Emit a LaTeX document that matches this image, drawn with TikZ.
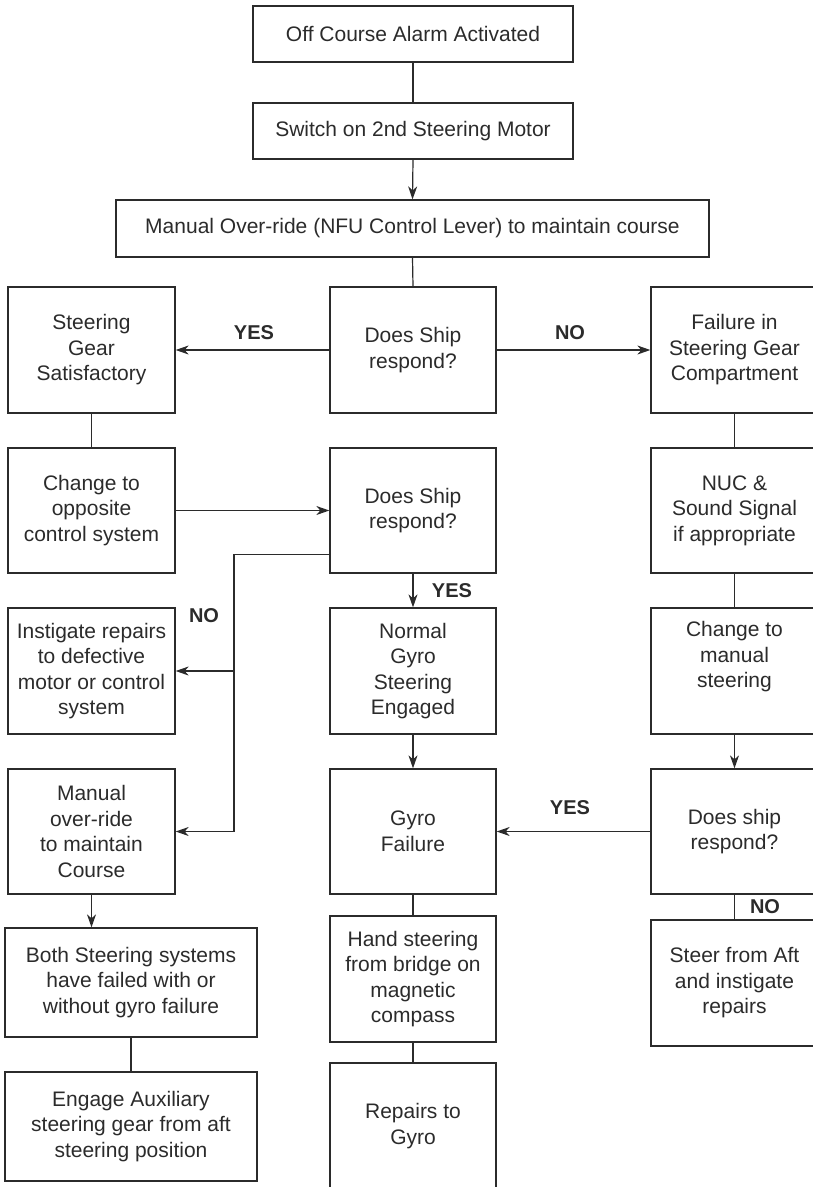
\documentclass[tikz,border=0pt]{standalone}
\usepackage{fontspec}
\setmainfont{Liberation Sans}
\usetikzlibrary{arrows.meta}
\definecolor{ink}{rgb}{0.17,0.17,0.17}
\begin{document}
\begin{tikzpicture}[x=1pt,y=-1pt,
  box/.style={draw=ink, line width=1.3pt, inner sep=0pt, align=center, text=ink,
    font=\fontsize{21}{25.5}\selectfont},
  colbox/.style={box, minimum width=167pt, minimum height=126pt},
  lnk/.style={draw=ink, line width=1.2pt},
  arr/.style={lnk, -{Stealth[length=13pt,width=9pt,inset=4pt]}},
  lbl/.style={text=ink, font=\fontsize{20}{24}\selectfont\bfseries, inner sep=0pt}]
\useasboundingbox (0,0) rectangle (813,1187);
\clip (0,0) rectangle (813,1187);
% top
\node[box, minimum width=320pt, minimum height=56pt] (b1) at (413,34) {Off Course Alarm Activated};
\node[box, minimum width=320pt, minimum height=56pt] (b2) at (413,131) {Switch on 2nd Steering Motor};
\node[box, minimum width=593pt, minimum height=57pt] (b3) at (412.5,228.5) {Manual Over-ride (NFU Control Lever) to maintain course};
% row 2
\node[colbox] (l2) at (91.5,350) {Steering\\Gear\\Satisfactory};
\node[colbox, minimum width=166pt] (m2) at (413,350) {Does Ship\\respond?};
\node[colbox] (r2) at (734.5,350) {Failure in\\Steering Gear\\Compartment};
% row 3
\node[colbox, minimum height=125pt] (l3) at (91.5,510.5) {Change to\\opposite\\control system};
\node[colbox, minimum width=166pt, minimum height=125pt] (m3) at (413,510.5) {Does Ship\\respond?};
\node[colbox, minimum height=125pt] (r3) at (734.5,510.5) {NUC \&\\Sound Signal\\if appropriate};
% row 4
\node[colbox] (l4) at (91.5,671) {Instigate repairs\\to defective\\motor or control\\system};
\node[colbox, minimum width=166pt] (m4) at (413,671) {Normal\\Gyro\\Steering\\Engaged};
\node[colbox] (r4) at (734.5,671) {Change to\\manual\\steering\\\strut};
% row 5
\node[colbox, minimum height=125pt] (l5) at (91.5,831.5) {Manual\\over-ride\\to maintain\\Course};
\node[colbox, minimum width=166pt, minimum height=125pt] (m5) at (413,831.5) {Gyro\\Failure};
\node[colbox, minimum height=125pt] (r5) at (734.5,831.5) {Does ship\\respond?};
% row 6/7
\node[box, minimum width=252pt, minimum height=109pt] (l6) at (131,982.5) {Both Steering systems\\have failed with or\\without gyro failure};
\node[box, minimum width=252pt, minimum height=109pt] (l7) at (131,1126.5) {Engage Auxiliary\\steering gear from aft\\steering position};
\node[colbox, minimum width=166pt] (m6) at (413,979) {Hand steering\\from bridge on\\magnetic\\compass};
\node[colbox, minimum width=166pt] (m7) at (413,1126) {Repairs to\\Gyro};
\node[colbox] (r6) at (734.5,983) {Steer from Aft\\and instigate\\repairs};
% connectors
\draw[lnk] (b1.south) -- (b2.north);
\draw[arr] (b2.south) -- (b3.north);
\draw[lnk] (b3.south) -- (m2.north);
\draw[arr] (m2.west) -- (l2.east);
\node[lbl] (yes1) at (254,333) {YES};
\draw[arr] (m2.east) -- (r2.west);
\node[lbl] (no1) at (570,333) {NO};
\draw[lnk] (l2.south) -- (l3.north);
\draw[arr] (l3.east) -- (m3.west);
\draw[lnk] (r2.south) -- (r3.north);
\draw[arr] (m3.south) -- (m4.north);
\node[lbl] (yes2) at (452,591) {YES};
\coordinate (nj) at (234,554.5);
\draw[arr] (m3.west |- nj) -- (nj) |- (l5.east);
\draw[arr] (nj |- l4.east) -- (l4.east);
\node[lbl] (no2) at (204,616) {NO};
\draw[lnk] (r3.south) -- (r4.north);
\draw[arr] (m4.south) -- (m5.north);
\draw[arr] (r4.south) -- (r5.north);
\draw[arr] (r5.west) -- (m5.east);
\node[lbl] (yes3) at (570,808) {YES};
\draw[arr] (l5.south) -- (l5.south |- l6.north);
\draw[lnk] (l6.south) -- (l7.north);
\draw[lnk] (m5.south) -- (m6.north);
\draw[lnk] (m6.south) -- (m7.north);
\draw[lnk] (r5.south) -- (r6.north);
\node[lbl] (no3) at (765,907) {NO};
\end{tikzpicture}
\end{document}
